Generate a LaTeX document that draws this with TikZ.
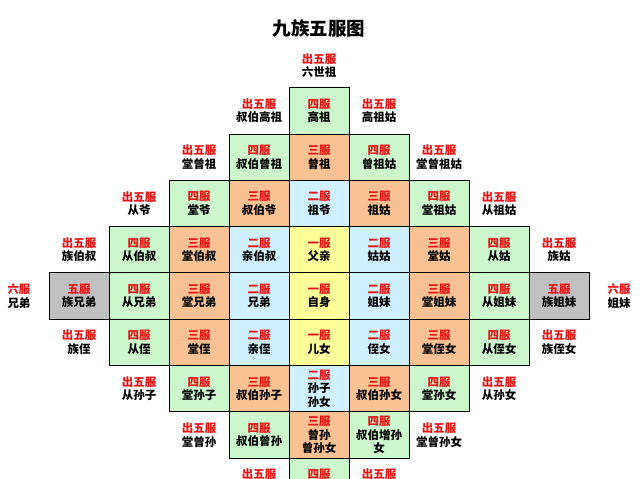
\documentclass[tikz,border=0pt]{standalone}
\usepackage{fontspec}
\newfontfamily\cjk{Noto Sans CJK SC}
\definecolor{gfill}{RGB}{204,246,204}
\definecolor{ofill}{RGB}{250,194,146}
\definecolor{bfill}{RGB}{206,240,255}
\definecolor{yfill}{RGB}{255,255,153}
\definecolor{sfill}{RGB}{192,192,192}
\definecolor{lvl}{RGB}{228,20,20}
\tikzset{
  cellbox/.style={draw=black, line width=0.9pt, minimum width=60pt, minimum height=46.3pt, inner sep=0pt, align=center, font=\cjk\bfseries\fontsize{11.5pt}{13.5pt}\selectfont},
  outlabel/.style={inner sep=0pt, align=center, font=\cjk\bfseries\fontsize{11.5pt}{13.5pt}\selectfont},
  titlestyle/.style={inner sep=0pt, font=\cjk\bfseries\fontsize{18.5pt}{20pt}\selectfont}
}
\newcommand{\lv}[1]{\textcolor{lvl}{#1}}
\newcommand{\cellat}[6]{\node[cellbox, fill=#4] (#1) at ({319+60*(#2)},{110.85+46.3*(#3)}) {\lv{#5}\\#6};}
\newcommand{\outat}[5]{\node[outlabel] (#1) at ({319+60*(#2)},{110.85+46.3*(#3)}) {\lv{#4}\\#5};}
\begin{document}
\begin{tikzpicture}[x=1pt,y=-1pt]
\useasboundingbox (0,0) rectangle (640,479);
\clip (0,0) rectangle (640,479);
\fill[white] (0,0) rectangle (640,479);
\node[titlestyle] (title) at (319,28) {九族五服图};
\node[outlabel] (top) at (319,65.5) {\lv{出五服}\\六世祖};
% row 0
\outat{o0l}{-1}{0}{出五服}{叔伯高祖}
\cellat{c00}{0}{0}{gfill}{四服}{高祖}
\outat{o0r}{1}{0}{出五服}{高祖姑}
% row 1
\outat{o1l}{-2}{1}{出五服}{堂曾祖}
\cellat{c1a}{-1}{1}{gfill}{四服}{叔伯曾祖}
\cellat{c1b}{0}{1}{ofill}{三服}{曾祖}
\cellat{c1c}{1}{1}{gfill}{四服}{曾祖姑}
\outat{o1r}{2}{1}{出五服}{堂曾祖姑}
% row 2
\outat{o2l}{-3}{2}{出五服}{从爷}
\cellat{c2a}{-2}{2}{gfill}{四服}{堂爷}
\cellat{c2b}{-1}{2}{ofill}{三服}{叔伯爷}
\cellat{c2c}{0}{2}{bfill}{二服}{祖爷}
\cellat{c2d}{1}{2}{ofill}{三服}{祖姑}
\cellat{c2e}{2}{2}{gfill}{四服}{堂祖姑}
\outat{o2r}{3}{2}{出五服}{从祖姑}
% row 3
\outat{o3l}{-4}{3}{出五服}{族伯叔}
\cellat{c3a}{-3}{3}{gfill}{四服}{从伯叔}
\cellat{c3b}{-2}{3}{ofill}{三服}{堂伯叔}
\cellat{c3c}{-1}{3}{bfill}{二服}{亲伯叔}
\cellat{c3d}{0}{3}{yfill}{一服}{父亲}
\cellat{c3e}{1}{3}{bfill}{二服}{姑姑}
\cellat{c3f}{2}{3}{ofill}{三服}{堂姑}
\cellat{c3g}{3}{3}{gfill}{四服}{从姑}
\outat{o3r}{4}{3}{出五服}{族姑}
% row 4
\outat{o4l}{-5}{4}{六服}{兄弟}
\cellat{c4a}{-4}{4}{sfill}{五服}{族兄弟}
\cellat{c4b}{-3}{4}{gfill}{四服}{从兄弟}
\cellat{c4c}{-2}{4}{ofill}{三服}{堂兄弟}
\cellat{c4d}{-1}{4}{bfill}{二服}{兄弟}
\cellat{c4e}{0}{4}{yfill}{一服}{自身}
\cellat{c4f}{1}{4}{bfill}{二服}{姐妹}
\cellat{c4g}{2}{4}{ofill}{三服}{堂姐妹}
\cellat{c4h}{3}{4}{gfill}{四服}{从姐妹}
\cellat{c4i}{4}{4}{sfill}{五服}{族姐妹}
\outat{o4r}{5}{4}{六服}{姐妹}
% row 5
\outat{o5l}{-4}{5}{出五服}{族侄}
\cellat{c5a}{-3}{5}{gfill}{四服}{从侄}
\cellat{c5b}{-2}{5}{ofill}{三服}{堂侄}
\cellat{c5c}{-1}{5}{bfill}{二服}{亲侄}
\cellat{c5d}{0}{5}{yfill}{一服}{儿女}
\cellat{c5e}{1}{5}{bfill}{二服}{侄女}
\cellat{c5f}{2}{5}{ofill}{三服}{堂侄女}
\cellat{c5g}{3}{5}{gfill}{四服}{从侄女}
\outat{o5r}{4}{5}{出五服}{族侄女}
% row 6
\outat{o6l}{-3}{6}{出五服}{从孙子}
\cellat{c6a}{-2}{6}{gfill}{四服}{堂孙子}
\cellat{c6b}{-1}{6}{ofill}{三服}{叔伯孙子}
\cellat{c6c}{0}{6}{bfill}{二服}{孙子\\孙女}
\cellat{c6d}{1}{6}{ofill}{三服}{叔伯孙女}
\cellat{c6e}{2}{6}{gfill}{四服}{堂孙女}
\outat{o6r}{3}{6}{出五服}{从孙女}
% row 7
\outat{o7l}{-2}{7}{出五服}{堂曾孙}
\cellat{c7a}{-1}{7}{gfill}{四服}{叔伯曾孙}
\cellat{c7b}{0}{7}{ofill}{三服}{曾孙\\曾孙女}
\cellat{c7c}{1}{7}{gfill}{四服}{叔伯增孙\\女}
\outat{o7r}{2}{7}{出五服}{堂曾孙女}
% row 8
\outat{o8l}{-1}{8}{出五服}{叔伯玄孙}
\cellat{c8a}{0}{8}{gfill}{四服}{玄孙}
\outat{o8r}{1}{8}{出五服}{叔伯玄孙}
\end{tikzpicture}
\end{document}
